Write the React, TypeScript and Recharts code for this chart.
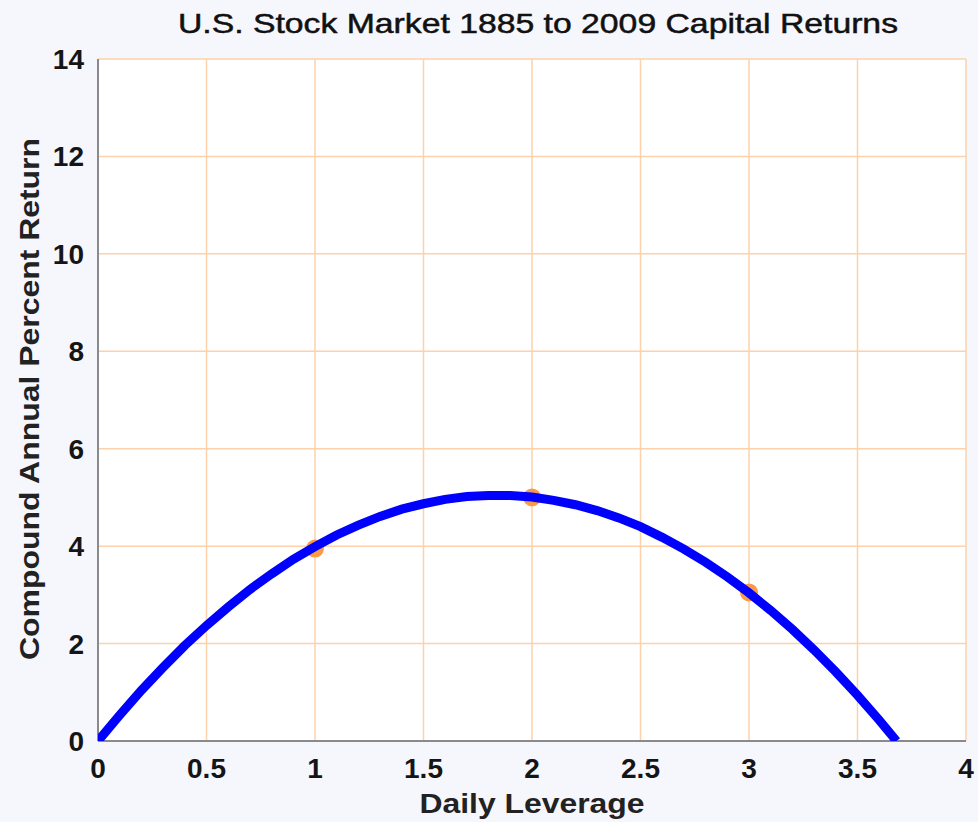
import React from "react";
import {
  ComposedChart,
  Scatter,
  XAxis,
  YAxis,
  CartesianGrid,
} from "recharts";

const titleText = "U.S. Stock Market 1885 to 2009 Capital Returns";
const xLabelText = "Daily Leverage";
const yLabelText = "Compound Annual Percent Return";

const xTicks = [0, 0.5, 1, 1.5, 2, 2.5, 3, 3.5, 4];
const yTicks = [0, 2, 4, 6, 8, 10, 12, 14];

// Fitted curve
const curveX = [
  0, 0.1, 0.2, 0.3, 0.4, 0.5, 0.6, 0.7, 0.8, 0.9, 1.0, 1.1, 1.2, 1.3, 1.4,
  1.5, 1.6, 1.7, 1.8, 1.9, 2.0, 2.1, 2.2, 2.3, 2.4, 2.5, 2.6, 2.7, 2.8, 2.9,
  3.0, 3.1, 3.2, 3.3, 3.4, 3.5, 3.6, 3.68,
];
const curveY = [
  0, 0.53, 1.04, 1.51, 1.96, 2.37, 2.75, 3.11, 3.43, 3.73, 3.99, 4.23, 4.43,
  4.61, 4.76, 4.87, 4.96, 5.02, 5.04, 5.04, 5.01, 4.94, 4.85, 4.73, 4.58,
  4.4, 4.18, 3.94, 3.67, 3.37, 3.04, 2.68, 2.29, 1.87, 1.42, 0.94, 0.43, 0,
];

// Observed data points
const pointX = [1, 2, 3];
const pointY = [3.95, 5.0, 3.05];

const curveData = curveX.map((x, i) => ({ x, y: curveY[i] }));
const pointData = pointX.map((x, i) => ({ x, y: pointY[i] }));

const W = 978;
const H = 822;
const FONT = "'Liberation Sans', Arial, Helvetica, sans-serif";

const tickStyle = {
  fontFamily: FONT,
  fontSize: 28,
  fontWeight: 700,
  fill: "#151515",
};

const FRAME = "#8a8a8a";

export default function App() {
  return (
    <div
      style={{
        position: "absolute",
        left: 0,
        top: 0,
        width: W,
        height: H,
        background: "#f6f7fc",
      }}
    >
      <ComposedChart
        width={W}
        height={H}
        margin={{ top: 59, right: 12, bottom: 41, left: 38 }}
      >
        <CartesianGrid
          stroke="#fdd2aa"
          strokeWidth={1.5}
          fill="#ffffff"
          horizontalValues={yTicks}
          verticalValues={xTicks}
        />
        {/* inward tick marks (bottom) */}
        <XAxis
          xAxisId="bin"
          orientation="bottom"
          mirror
          type="number"
          domain={[0, 4]}
          ticks={xTicks}
          height={0}
          axisLine={false}
          tick={false}
          tickSize={7}
          stroke={FRAME}
          tickLine={{ stroke: FRAME, strokeWidth: 1.5 }}
        />
        <XAxis
          type="number"
          dataKey="x"
          domain={[0, 4]}
          ticks={xTicks}
          allowDataOverflow
          height={40}
          axisLine={{ stroke: FRAME, strokeWidth: 2 }}
          tickLine={false}
          tickMargin={11}
          tick={tickStyle}
        />
        <XAxis
          xAxisId="top"
          orientation="top"
          mirror
          type="number"
          domain={[0, 4]}
          ticks={xTicks}
          height={0}
          axisLine={{ stroke: FRAME, strokeWidth: 2 }}
          tick={false}
          tickSize={7}
          tickLine={{ stroke: FRAME, strokeWidth: 1.5 }}
        />
        {/* inward tick marks (left) */}
        <YAxis
          yAxisId="lin"
          orientation="left"
          mirror
          type="number"
          domain={[0, 14]}
          ticks={yTicks}
          width={0}
          axisLine={false}
          tick={false}
          tickSize={7}
          tickLine={{ stroke: FRAME, strokeWidth: 1.5 }}
        />
        <YAxis
          type="number"
          domain={[0, 14]}
          ticks={yTicks}
          allowDataOverflow
          width={60}
          axisLine={{ stroke: FRAME, strokeWidth: 2 }}
          tickLine={false}
          tickMargin={8}
          tick={tickStyle}
        />
        <YAxis
          yAxisId="right"
          orientation="right"
          mirror
          type="number"
          domain={[0, 14]}
          ticks={yTicks}
          width={0}
          axisLine={{ stroke: "#b08a66", strokeWidth: 2 }}
          tick={false}
          tickSize={7}
          tickLine={{ stroke: FRAME, strokeWidth: 1.5 }}
        />
        <Scatter
          data={pointData}
          dataKey="y"
          fill="#fb9a45"
          shape={(p: any) => (
            <circle cx={p.cx} cy={p.cy} r={9} fill="#fb9a45" />
          )}
          isAnimationActive={false}
        />
        <Scatter
          data={curveData}
          dataKey="y"
          line={{ stroke: "#0000ff", strokeWidth: 9 }}
          lineType="joint"
          shape={() => <g />}
          isAnimationActive={false}
        />
      </ComposedChart>
      <svg
        width={W}
        height={H}
        style={{ position: "absolute", left: 0, top: 0, pointerEvents: "none" }}
      >
        <text
          x={538}
          y={33}
          textAnchor="middle"
          fontFamily={FONT}
          fontSize={28}
          fill="#111"
          stroke="#111"
          strokeWidth={0.5}
          textLength={720}
          lengthAdjust="spacingAndGlyphs"
        >
          {titleText}
        </text>
        <text
          x={532}
          y={813}
          textAnchor="middle"
          fontFamily={FONT}
          fontSize={28}
          fontWeight={700}
          fill="#222"
          textLength={225}
          lengthAdjust="spacingAndGlyphs"
        >
          {xLabelText}
        </text>
        <text
          x={0}
          y={0}
          transform="translate(39,399) rotate(-90)"
          textAnchor="middle"
          fontFamily={FONT}
          fontSize={28}
          fontWeight={700}
          fill="#222"
          textLength={522}
          lengthAdjust="spacingAndGlyphs"
        >
          {yLabelText}
        </text>
      </svg>
    </div>
  );
}
